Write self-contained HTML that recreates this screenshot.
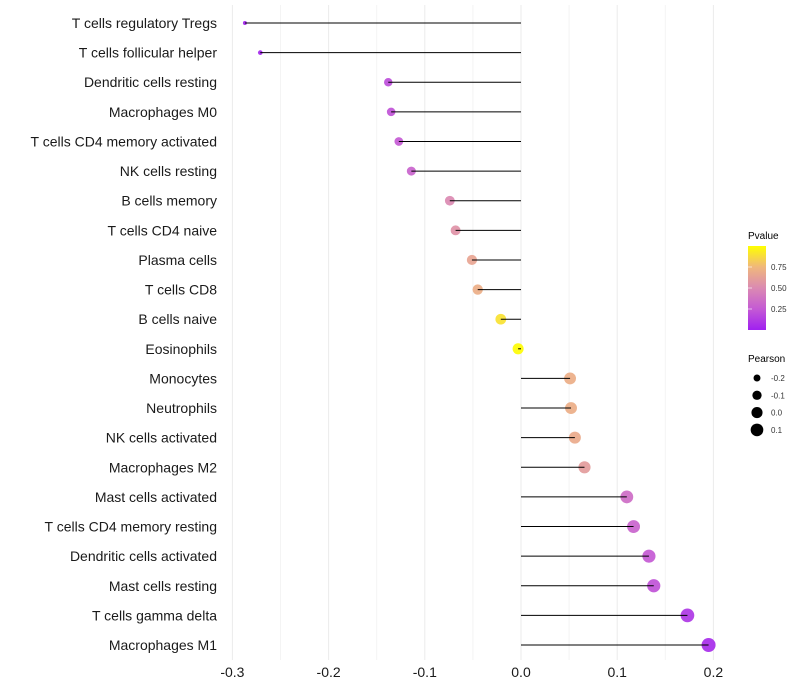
<!DOCTYPE html>
<html><head><meta charset="utf-8"><style>
html,body{margin:0;padding:0;background:#fff;}
svg{display:block;font-family:"Liberation Sans",sans-serif;}
</style></head><body>
<svg id="chart" width="800" height="700" xmlns="http://www.w3.org/2000/svg">
<defs><linearGradient id="pg" x1="0" y1="1" x2="0" y2="0">
<stop offset="0" stop-color="#a020f0"/><stop offset="0.25" stop-color="#c45ad4"/><stop offset="0.5" stop-color="#db8ab2"/><stop offset="0.75" stop-color="#f0b77c"/><stop offset="1" stop-color="#ffff00"/></linearGradient></defs>
<g id="grid"></g>
<g id="marks"></g>
<g id="stems"></g>
<g id="labels"></g>
<g id="xticks"></g>
<g>
<text x="748" y="239" font-size="10">Pvalue</text>
<rect x="748" y="246" width="18" height="84" fill="url(#pg)"/>
<g id="cbticks"></g>
</g>
<g id="sizeleg">
<text x="748" y="362" font-size="10">Pearson</text>
</g>
</svg>
<script>
const categories=["T cells regulatory  Tregs","T cells follicular helper","Dendritic cells resting","Macrophages M0","T cells CD4 memory activated","NK cells resting","B cells memory","T cells CD4 naive","Plasma cells","T cells CD8","B cells naive","Eosinophils","Monocytes","Neutrophils","NK cells activated","Macrophages M2","Mast cells activated","T cells CD4 memory resting","Dendritic cells activated","Mast cells resting","T cells gamma delta","Macrophages M1"];
const pearson=[-0.287,-0.271,-0.138,-0.135,-0.127,-0.114,-0.074,-0.068,-0.051,-0.045,-0.021,-0.003,0.051,0.052,0.056,0.066,0.110,0.117,0.133,0.138,0.173,0.195];
const pvalue=[0.02,0.03,0.2,0.22,0.25,0.3,0.5,0.55,0.65,0.7,0.9,0.99,0.7,0.7,0.68,0.6,0.35,0.3,0.25,0.22,0.1,0.05];
const xTicks=[-0.3,-0.2,-0.1,0.0,0.1,0.2];
const xTickLabels=["-0.3","-0.2","-0.1","0.0","0.1","0.2"];
const cbTicks=[0.25,0.5,0.75];
const cbTickLabels=["0.25","0.50","0.75"];
const sizeLegVals=[-0.2,-0.1,0.0,0.1];
const sizeLegLabels=["-0.2","-0.1","0.0","0.1"];

const NS="http://www.w3.org/2000/svg";
function x(v){return 521+v*962;}
function y(i){return 23+i*(622/21);}
function r(v){return Math.sqrt(Math.max(1,30.8+93.4*v));}
const stops=[[0,[160,32,240]],[0.25,[196,90,212]],[0.5,[219,138,178]],[0.75,[240,183,124]],[1,[255,255,0]]];
function col(p){for(let k=1;k<stops.length;k++){if(p<=stops[k][0]){const a=stops[k-1],b=stops[k],t=(p-a[0])/(b[0]-a[0]);return "rgb("+a[1].map((c,j)=>Math.round(c+(b[1][j]-c)*t)).join(",")+")";}}return "rgb(255,255,0)";}
function mk(tag,attrs,parent){const e=document.createElementNS(NS,tag);for(const k in attrs)e.setAttribute(k,attrs[k]);parent.appendChild(e);return e;}
const grid=document.getElementById('grid');
for(let v=-0.3;v<=0.2001;v+=0.05){const l=mk('line',{x1:x(v),x2:x(v),y1:5,y2:660,stroke:(Math.abs(Math.round(v*100))%10===0)?'#ebebeb':'#f4f4f4','stroke-width':1},grid);

}
const marks=document.getElementById('marks'),stemsG=document.getElementById('stems'),labels=document.getElementById('labels');
categories.forEach((c,i)=>{
 const d=mk('circle',{cx:x(pearson[i]),cy:y(i),r:r(pearson[i]),fill:col(pvalue[i]),'fill-opacity':0.92},marks);
 
 
 const s=mk('line',{x1:x(0),x2:x(pearson[i]),y1:y(i),y2:y(i),stroke:'#000','stroke-width':1},stemsG);
 
 
 const t=mk('text',{x:217,y:y(i)+5,'text-anchor':'end','font-size':14,fill:'#1a1a1a'},labels);
 t.textContent=c;
 
 
});
const xt=document.getElementById('xticks');
xTicks.forEach((v,i)=>{const t=mk('text',{x:x(v),y:677,'text-anchor':'middle','font-size':14,fill:'#1a1a1a'},xt);t.textContent=xTickLabels[i];

});
const cb=document.getElementById('cbticks');
cbTicks.forEach((v,i)=>{const yy=330-v*84;
const l=mk('line',{x1:748,x2:752,y1:yy,y2:yy,stroke:'#fff','stroke-width':0.6},cb);


const t=mk('text',{x:771,y:yy+3,'font-size':8,fill:'#333'},cb);t.textContent=cbTickLabels[i];

});
const sl=document.getElementById('sizeleg');
sizeLegVals.forEach((v,i)=>{const yy=378+i*17.3;
const c=mk('circle',{cx:757,cy:yy,r:r(v),fill:'#000'},sl);


const t=mk('text',{x:771,y:yy+3,'font-size':8,fill:'#333'},sl);t.textContent=sizeLegLabels[i];

});
</script>
</body></html>
